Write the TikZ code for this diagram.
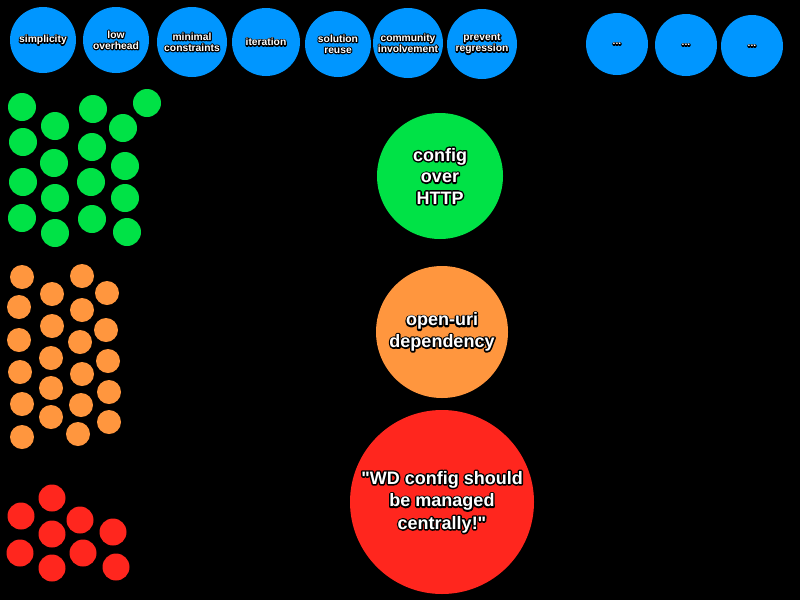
\documentclass[tikz,border=0pt]{standalone}
\usepackage{fontspec}
\setmainfont{Liberation Sans}[Ligatures=TeXOff]
\definecolor{cblue}{RGB}{0,150,255}
\definecolor{cgreen}{RGB}{0,226,70}
\definecolor{corange}{RGB}{255,150,62}
\definecolor{cred}{RGB}{255,38,30}
\newcommand\glw[2]{\rlap{\special{pdf:literal direct 1 Tr #1 w 1 j 0 0 0 RG}#2\special{pdf:literal direct 0 Tr}}#2}
\newcommand\gl[1]{\glw{2.2}{#1}}
\newcommand\glb[1]{\glw{3}{#1}}
\begin{document}
\begin{tikzpicture}[x=1pt,y=-1pt,
  bub/.style={circle,inner sep=0pt,outer sep=0pt,align=center,text=white,font=\bfseries\fontsize{10.3}{11}\selectfont},
  topb/.style={bub,fill=cblue,minimum size=#1*2pt},
  gdot/.style={circle,inner sep=0pt,fill=cgreen,minimum size=28pt},
  odot/.style={circle,inner sep=0pt,fill=corange,minimum size=24pt},
  rdot/.style={circle,inner sep=0pt,fill=cred,minimum size=27pt},
  bigb/.style={bub,font=\bfseries\fontsize{18}{21.5}\selectfont}]
\fill[black] (0,0) rectangle (800,600);
\useasboundingbox (0,0) rectangle (800,600);
% top blue circles
\node[topb=33] (b1) at (43,40) {\gl{simplicity}};
\node[topb=33] (b2) at (116,40) {\gl{low}\\\gl{overhead}};
\node[topb=35] (b3) at (192,42) {\gl{minimal}\\\gl{constraints}};
\node[topb=34] (b4) at (266,42) {\gl{iteration}};
\node[topb=33] (b5) at (338,44) {\gl{solution}\\\gl{reuse}};
\node[topb=35] (b6) at (408,43) {\gl{community}\\\gl{involvement}};
\node[topb=35] (b7) at (482,44) {\gl{prevent}\\\gl{regression}};
\node[topb=31] (b8) at (617,44) {\gl{...}};
\node[topb=31] (b9) at (686,45) {\gl{...}};
\node[topb=31] (b10) at (752,46) {\gl{...}};
% green dots
\foreach \x/\y [count=\i] in {22/107,55/126,93/109,147/103,123/128,23/142,54/163,92/147,125/166,23/182,55/198,91/182,125/198,22/218,55/233,92/219,127/232}
  \node[gdot] (g\i) at (\x,\y) {};
% orange dots
\foreach \x/\y [count=\i] in {22/277,82/276,52/294,107/293,19/307,82/310,52/326,106/330,19/340,80/342,51/358,108/361,20/372,82/374,51/388,109/392,22/404,81/405,51/417,109/422,22/437,78/434}
  \node[odot] (o\i) at (\x,\y) {};
% red dots
\foreach \x/\y [count=\i] in {52/498,21/516,80/520,52/534,113/532,20/553,83/553,52/568,116/567}
  \node[rdot] (r\i) at (\x,\y) {};
% big circles
\node[bigb,fill=cgreen,minimum size=126pt] (cfg) at (440,176) {\glb{config}\\\glb{over}\\\glb{HTTP}};
\node[bigb,fill=corange,minimum size=132pt] (uri) at (442,332) {\glb{open-uri}\\\glb{dependency}};
\node[bigb,fill=cred,minimum size=184pt,font=\bfseries\fontsize{18}{22.5}\selectfont] (wd) at (442,502) {\glb{"WD config should}\\\glb{be managed}\\\glb{centrally!"}};
\end{tikzpicture}
\end{document}
